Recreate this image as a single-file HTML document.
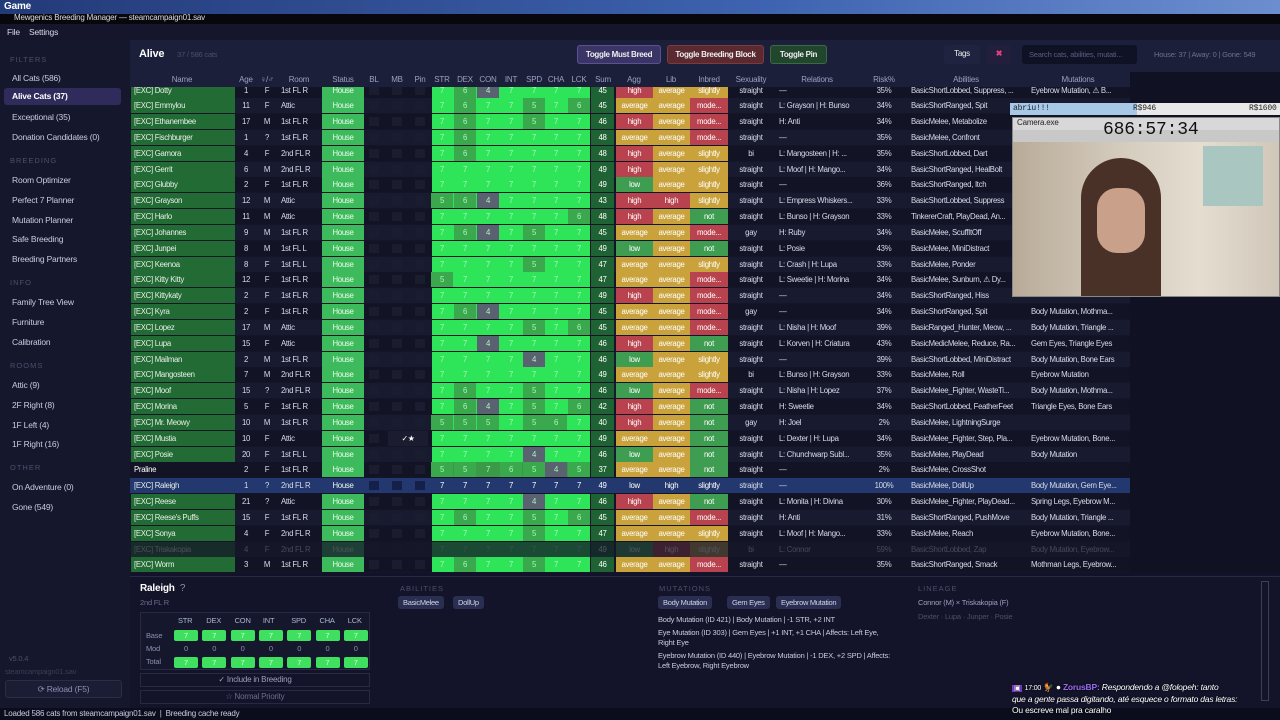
<!DOCTYPE html>
<html><head><meta charset="utf-8">
<style>
*{box-sizing:border-box;margin:0;padding:0}
body{width:1280px;height:720px;overflow:hidden;background:#12132a;font-family:"Liberation Sans",sans-serif;color:#d8dbe8;font-size:9px;position:relative;letter-spacing:-0.2px}
.a{position:absolute;white-space:nowrap}
.side .a{font-size:8.5px;color:#c9cbe0}
.sec{color:#4b4f6b !important;font-size:7.5px !important;letter-spacing:1px}
.btn{position:absolute;border-radius:3px;font-size:8px;font-weight:bold;text-align:center;line-height:17px;color:#eee;white-space:nowrap;letter-spacing:-0.3px}
.hd{position:absolute;top:75px;font-size:8px;color:#9aa0c0;text-align:center;white-space:nowrap}
.cell{position:absolute;height:15px;line-height:15px;text-align:center;font-size:7.8px;overflow:hidden;white-space:nowrap;letter-spacing:-0.3px}
.chip{position:absolute;background:#2a2f52;border-radius:3px;height:13px;line-height:13px;padding:0 5px;font-size:7.5px;color:#cfd3ea;letter-spacing:-0.3px}
</style></head><body>
<div class="a" style="left:0;top:0;width:1280px;height:14px;background:linear-gradient(90deg,#233a78,#3e63b0 60%,#6c8ed0)"></div>
<div class="a" style="left:4px;top:1px;font-size:10px;font-weight:bold;color:#fff">Game</div>
<div class="a" style="left:0;top:14px;width:1280px;height:10px;background:#07070d"></div>
<div class="a" style="left:14px;top:13px;font-size:8px;color:#ddd">Mewgenics Breeding Manager — steamcampaign01.sav</div>
<div class="a" style="left:0;top:24px;width:1280px;height:16px;background:#15162b"></div>
<div class="a" style="left:7px;top:27px;font-size:8.5px">File</div>
<div class="a" style="left:29px;top:27px;font-size:8.5px">Settings</div>
<div class="a side" style="left:0;top:40px;width:130px;height:668px;background:#15172c">
 <div class="a sec" style="left:10px;top:15px">FILTERS</div>
 <div class="a" style="left:12px;top:33px">All Cats (586)</div>
 <div class="a" style="left:4px;top:48px;width:117px;height:17px;background:#2f2c5c;border-radius:3px;padding:3px 8px;color:#fff;font-weight:bold">Alive Cats (37)</div>
 <div class="a" style="left:12px;top:72px">Exceptional (35)</div>
 <div class="a" style="left:12px;top:92px">Donation Candidates (0)</div>
 <div class="a sec" style="left:10px;top:116px">BREEDING</div>
 <div class="a" style="left:12px;top:135px">Room Optimizer</div>
 <div class="a" style="left:12px;top:155px">Perfect 7 Planner</div>
 <div class="a" style="left:12px;top:175px">Mutation Planner</div>
 <div class="a" style="left:12px;top:194px">Safe Breeding</div>
 <div class="a" style="left:12px;top:214px">Breeding Partners</div>
 <div class="a sec" style="left:10px;top:238px">INFO</div>
 <div class="a" style="left:12px;top:257px">Family Tree View</div>
 <div class="a" style="left:12px;top:277px">Furniture</div>
 <div class="a" style="left:12px;top:297px">Calibration</div>
 <div class="a sec" style="left:10px;top:321px">ROOMS</div>
 <div class="a" style="left:12px;top:340px">Attic (9)</div>
 <div class="a" style="left:12px;top:360px">2F Right (8)</div>
 <div class="a" style="left:12px;top:380px">1F Left (4)</div>
 <div class="a" style="left:12px;top:399px">1F Right (16)</div>
 <div class="a sec" style="left:10px;top:423px">OTHER</div>
 <div class="a" style="left:12px;top:442px">On Adventure (0)</div>
 <div class="a" style="left:12px;top:462px">Gone (549)</div>
 <div class="a" style="left:9px;top:614px;color:#4b4f6b;font-size:7.5px">v5.0.4</div>
 <div class="a" style="left:5px;top:627px;color:#3a3e58;font-size:7.5px">steamcampaign01.sav</div>
 <div class="a" style="left:5px;top:640px;width:117px;height:18px;border:1px solid #2a2d48;background:#1b1d35;border-radius:3px;text-align:center;line-height:16px;color:#8a8fb0">⟳ Reload (F5)</div>
</div>
<div class="a" style="left:130px;top:40px;width:1150px;height:47px;background:#1b1f3a"></div>
<div class="a" style="left:139px;top:48px;font-size:11px;font-weight:bold;color:#fff">Alive</div>
<div class="a" style="left:177px;top:50px;font-size:7.5px;color:#4a4f70">37 / 586 cats</div>
<div class="btn" style="left:577px;top:45px;width:84px;height:19px;background:#3a3566;border:1px solid #5a5290">Toggle Must Breed</div>
<div class="btn" style="left:667px;top:45px;width:97px;height:19px;background:#5a2a30;border:1px solid #7a3a40">Toggle Breeding Block</div>
<div class="btn" style="left:770px;top:45px;width:57px;height:19px;background:#22452e;border:1px solid #3a6a44">Toggle Pin</div>
<div class="btn" style="left:944px;top:45px;width:36px;height:19px;background:#1f2340;font-weight:normal">Tags</div>
<div class="btn" style="left:987px;top:45px;width:24px;height:19px;background:#221f3c;color:#e0407a">✖</div>
<div class="a" style="left:1022px;top:45px;width:115px;height:19px;background:#0f1124;border-radius:3px;padding:5px 7px;color:#5a5f80;font-size:7.5px">Search cats, abilities, mutati...</div>
<div class="a" style="left:1154px;top:50px;font-size:7.5px;color:#6a7090">House: 37 | Away: 0 | Gone: 549</div>
<div class="a" style="left:130px;top:72px;width:1000px;height:15px;background:#1b1f3a"></div>
<div id="hdr"></div>
<div class="a" style="left:130px;top:87px;width:1000px;height:486px;background:#141628;overflow:hidden" id="tb"></div>
<div class="a" style="left:1130px;top:72px;width:150px;height:501px;background:#101122"></div>
<div class="a" style="left:130px;top:576px;width:1150px;height:132px;background:#13142a;border-top:1px solid #262a45"></div>
<div class="a" style="left:140px;top:583px;font-size:10px;font-weight:bold;color:#fff">Raleigh <span style="color:#8a8fb0;font-weight:normal">&nbsp;?</span></div>
<div class="a" style="left:140px;top:598px;font-size:7.5px;color:#6a6f90">2nd FL R</div>
<div class="a" style="left:140px;top:612px;width:230px;height:58px;border:1px solid #262a45;background:#15172d" id="sg"></div>
<div class="a" style="left:140px;top:673px;width:230px;height:14px;border:1px solid #262a45;text-align:center;line-height:12px;color:#9aa0c0;font-size:8px">✓ Include in Breeding</div>
<div class="a" style="left:140px;top:690px;width:230px;height:14px;border:1px solid #262a45;text-align:center;line-height:12px;color:#6a6f90;font-size:8px;overflow:hidden">☆ Normal Priority</div>
<div class="a sec" style="left:400px;top:584px">ABILITIES</div>
<div class="chip" style="left:398px;top:596px">BasicMelee</div>
<div class="chip" style="left:453px;top:596px">DollUp</div>
<div class="a sec" style="left:659px;top:584px">MUTATIONS</div>
<div class="chip" style="left:658px;top:596px">Body Mutation</div>
<div class="chip" style="left:727px;top:596px">Gem Eyes</div>
<div class="chip" style="left:776px;top:596px">Eyebrow Mutation</div>
<div class="a" style="left:658px;top:615px;font-size:7.5px;line-height:10px;color:#c8cbe0;white-space:normal;width:235px">Body Mutation (ID 421) | Body Mutation | -1 STR, +2 INT<div style="height:3px"></div>Eye Mutation (ID 303) | Gem Eyes | +1 INT, +1 CHA | Affects: Left Eye, Right Eye<div style="height:3px"></div>Eyebrow Mutation (ID 440) | Eyebrow Mutation | -1 DEX, +2 SPD | Affects: Left Eyebrow, Right Eyebrow</div>
<div class="a sec" style="left:918px;top:584px">LINEAGE</div>
<div class="a" style="left:918px;top:598px;font-size:7.5px;color:#9aa0c0">Connor (M) × Triskakopia (F)</div>
<div class="a" style="left:918px;top:612px;font-size:7.5px;color:#4a4f6b">Dexter · Lupa · Junper · Posie</div>
<div class="a" style="left:1261px;top:581px;width:8px;height:120px;border:1px solid #3a3e58"></div>
<div class="a" style="left:0;top:708px;width:1280px;height:12px;background:#0c0d1c"></div>
<div class="a" style="left:4px;top:709px;font-size:8px;color:#c8cbe0">Loaded 586 cats from steamcampaign01.sav &nbsp;|&nbsp; Breeding cache ready</div>
<div class="a" style="left:1012px;top:682px;font-size:8.5px;line-height:11px;color:#fff;text-shadow:0 0 2px #000">
<span style="background:#7a3ec8;font-size:7px;padding:0 2px">▣</span> <span style="font-size:7px">17:00</span> 🐓 ● <b style="color:#9a6af0">ZorusBP:</b> <i>Respondendo a @folopeh: tanto</i><br><i>que a gente passa digitando, até esquece o formato das letras:</i><br>Ou escreve mal pra caralho</div>
<div class="a" style="left:1010px;top:103px;width:270px;height:12px;background:linear-gradient(90deg,#a8c8e8 0 47%,#e8e8e8 47%)"></div>
<div class="a" style="left:1013px;top:104px;font-size:8px;color:#222;font-family:'Liberation Mono',monospace">abriu!!! <span style="position:absolute;left:120px">R$946</span><span style="position:absolute;left:236px">R$1600</span></div>
<div class="a" style="left:1012px;top:117px;width:268px;height:180px;background:#c8c8c8;border:1px solid #888;overflow:hidden">
 <div class="a" style="left:0;top:0;width:268px;height:12px;background:#d8d8d8;font-size:8px;color:#222;padding-left:4px">Camera.exe</div>
 <div class="a" style="left:90px;top:2px;font-size:18px;color:#111;font-family:'Liberation Mono',monospace">686:57:34</div>
 <div class="a" style="left:0;top:24px;width:268px;height:156px;background:linear-gradient(90deg,#b8ab98,#d4cbbd 40%,#e4ddd0 70%,#cfc6b8)"></div>
 <div class="a" style="left:190px;top:28px;width:60px;height:60px;background:#a9c6c0"></div>
 <div class="a" style="left:68px;top:40px;width:80px;height:150px;background:#4a3128;border-radius:40px 40px 10px 10px"></div>
 <div class="a" style="left:84px;top:70px;width:48px;height:65px;background:#c9a08a;border-radius:20px"></div>
</div>
<script>
const names=["Dotty","Emmylou","Ethanembee","Fischburger","Gamora","Gerrit","Glubby","Grayson","Harlo","Johannes","Junpei","Keenoa","Kitty Kitty","Kittykaty","Kyra","Lopez","Lupa","Mailman","Mangosteen","Moof","Morina","Mr. Meowy","Mustia","Posie","Praline","Raleigh","Reese","Reese's Puffs","Sonya","Triskakopia","Worm"];
const ages=[1,11,17,1,4,6,2,12,11,9,8,8,12,2,2,17,15,2,7,15,5,10,10,20,2,1,21,15,4,4,3];
const sexes=["F","F","M","?","F","M","F","M","M","M","M","F","F","F","F","M","F","M","M","?","F","M","F","F","F","?","?","F","F","F","M"];
const rooms=["1st FL R","Attic","1st FL R","1st FL R","2nd FL R","2nd FL R","1st FL R","Attic","Attic","1st FL R","1st FL L","1st FL L","1st FL R","1st FL R","1st FL R","Attic","Attic","1st FL R","2nd FL R","2nd FL R","1st FL R","1st FL R","Attic","1st FL L","1st FL R","2nd FL R","Attic","1st FL R","2nd FL R","2nd FL R","1st FL R"];
const stats=[[7,6,4,7,7,7,7],[7,6,7,7,5,7,6],[7,6,7,7,5,7,7],[7,6,7,7,7,7,7],[7,6,7,7,7,7,7],[7,7,7,7,7,7,7],[7,7,7,7,7,7,7],[5,6,4,7,7,7,7],[7,7,7,7,7,7,6],[7,6,4,7,5,7,7],[7,7,7,7,7,7,7],[7,7,7,7,5,7,7],[5,7,7,7,7,7,7],[7,7,7,7,7,7,7],[7,6,4,7,7,7,7],[7,7,7,7,5,7,6],[7,7,4,7,7,7,7],[7,7,7,7,4,7,7],[7,7,7,7,7,7,7],[7,6,7,7,5,7,7],[7,6,4,7,5,7,6],[5,5,5,7,5,6,7],[7,7,7,7,7,7,7],[7,7,7,7,4,7,7],[5,5,7,6,5,4,5],[7,7,7,7,7,7,7],[7,7,7,7,4,7,7],[7,6,7,7,5,7,6],[7,7,7,7,5,7,7],[7,7,7,7,7,7,7],[7,6,7,7,5,7,7]];
const sums=[45,45,46,48,48,49,49,43,48,45,49,47,47,49,45,45,46,46,49,46,42,40,49,46,37,49,46,45,47,49,46];
const aggs=["high","average","high","average","high","high","low","high","high","average","low","average","average","high","average","average","high","low","average","low","high","high","average","low","average","low","high","average","average","low","average"];
const libs=["average","average","average","average","average","average","average","high","average","average","average","average","average","average","average","average","average","average","average","average","average","average","average","average","average","high","average","average","average","high","average"];
const inbreds=["slightly","mode...","mode...","mode...","slightly","slightly","slightly","slightly","not","mode...","not","slightly","mode...","mode...","mode...","mode...","not","slightly","slightly","mode...","not","not","not","not","not","slightly","not","mode...","slightly","slightly","mode..."];
const sexualities=["straight","straight","straight","straight","bi","straight","straight","straight","straight","gay","straight","straight","straight","straight","gay","straight","straight","straight","bi","straight","straight","gay","straight","straight","straight","straight","straight","straight","straight","bi","straight"];
const relations=["—","L: Grayson | H: Bunso","H: Anti","—","L: Mangosteen | H: ...","L: Moof | H: Mango...","—","L: Empress Whiskers...","L: Bunso | H: Grayson","H: Ruby","L: Posie","L: Crash | H: Lupa","L: Sweetie | H: Morina","—","—","L: Nisha | H: Moof","L: Korven | H: Criatura","—","L: Bunso | H: Grayson","L: Nisha | H: Lopez","H: Sweetie","H: Joel","L: Dexter | H: Lupa","L: Chunchwarp Subl...","—","—","L: Monita | H: Divina","H: Anti","L: Moof | H: Mango...","L: Connor","—"];
const risks=[35,34,34,35,35,34,36,33,33,34,43,33,34,34,34,39,43,39,33,37,34,2,34,35,2,100,30,31,33,59,35];
const abilities=["BasicShortLobbed, Suppress, ...","BasicShortRanged, Spit","BasicMelee, Metabolize","BasicMelee, Confront","BasicShortLobbed, Dart","BasicShortRanged, HealBolt","BasicShortRanged, Itch","BasicShortLobbed, Suppress","TinkererCraft, PlayDead, An...","BasicMelee, ScuffItOff","BasicMelee, MiniDistract","BasicMelee, Ponder","BasicMelee, Sunburn, ⚠ Dy...","BasicShortRanged, Hiss","BasicShortRanged, Spit","BasicRanged_Hunter, Meow, ...","BasicMedicMelee, Reduce, Ra...","BasicShortLobbed, MiniDistract","BasicMelee, Roll","BasicMelee_Fighter, WasteTi...","BasicShortLobbed, FeatherFeet","BasicMelee, LightningSurge","BasicMelee_Fighter, Step, Pla...","BasicMelee, PlayDead","BasicMelee, CrossShot","BasicMelee, DollUp","BasicMelee_Fighter, PlayDead...","BasicShortRanged, PushMove","BasicMelee, Reach","BasicShortLobbed, Zap","BasicShortRanged, Smack"];
const mutations=["Eyebrow Mutation, ⚠ B...","","","","","","","","","","","","","","Body Mutation, Mothma...","Body Mutation, Triangle ...","Gem Eyes, Triangle Eyes","Body Mutation, Bone Ears","Eyebrow Mutation","Body Mutation, Mothma...","Triangle Eyes, Bone Ears","","Eyebrow Mutation, Bone...","Body Mutation","","Body Mutation, Gem Eye...","Spring Legs, Eyebrow M...","Body Mutation, Triangle ...","Eyebrow Mutation, Bone...","Body Mutation, Eyebrow...","Mothman Legs, Eyebrow..."];
const headers=["Name","Age","♀/♂","Room","Status","BL","MB","Pin","STR","DEX","CON","INT","SPD","CHA","LCK","Sum","Agg","Lib","Inbred","Sexuality","Relations","Risk%","Abilities","Mutations"];

const hx=[182,246,267,299,343,374,397,420,442,465,488,511,534,556,579,603,634,671,709,751,817,884,966,1078];
const hdr=document.getElementById('hdr');
headers.forEach((h,i)=>{const d=document.createElement('div');d.className='hd';d.style.left=(hx[i]-30)+'px';d.style.width='60px';d.textContent=h;


hdr.appendChild(d);});
const tb=document.getElementById('tb');
const lvl={high:'#b8434f',average:'#c9a23c',low:'#3f9d52',slightly:'#c9a23c','mode...':'#b8434f',not:'#3f9d52'};
const statX=[442,465,488,511,534,556,579];
function cell(row,x,w,txt,bg,col,align){const c=document.createElement('div');c.className='cell';c.style.left=(x-130)+'px';c.style.width=w+'px';if(bg)c.style.background=bg;if(col)c.style.color=col;if(align){c.style.textAlign='left';c.style.paddingLeft='3px';}c.textContent=txt;row.appendChild(c);return c;}
const rowH=15.83;
names.forEach((n,i)=>{
 const r=document.createElement('div');
 
 
 const top=90+rowH*i-7.5-87;
 const sel=n==='Raleigh',dim=n==='Triskakopia',pr=n==='Praline';
 r.style.cssText=`position:absolute;left:0;top:${top}px;width:1000px;height:15px;background:${sel?'#23386e':(i%2?'#181b2f':'#121426')};opacity:${dim?0.25:1}`;
 cell(r,131,104,(pr?'':'[EXC] ')+n,sel||pr?null:'#236b35',pr?'#fff':'#e6f0e6',1);
 cell(r,236,20,ages[i]);cell(r,257,20,sexes[i]);
 cell(r,278,44,rooms[i],null,null,1);
 cell(r,322,42,'House',sel?null:'#3dbb5c','#eafbee');
 [374,397,420].forEach(x=>{const b=document.createElement('div');b.style.cssText=`position:absolute;left:${x-130-5}px;top:3px;width:10px;height:9px;background:${sel?'#14204a':'#1a1c30'}`;r.appendChild(b);});
 if(n==='Mustia')cell(r,388,40,'✓★','#1a1c30','#fff');
 if(!sel) {const g=document.createElement('div');g.style.cssText=`position:absolute;left:${432-130}px;top:0;width:158px;height:15px;background:${pr?'#3a9a48':'#2ee55a'}`;r.appendChild(g);}
 stats[i].forEach((v,k)=>{let bg=null;if(!sel){if(v<=4)bg='#5a6170';else if(v<7)bg='#3aa84c';}
  cell(r,statX[k]-11,22,v,bg,sel?'#fff':'#a8f5b8');});
 cell(r,591,23,sums[i],sel?null:'#1f6233','#fff');
 cell(r,616,37,aggs[i],sel?null:lvl[aggs[i]],'#fff');
 cell(r,653,37,libs[i],sel?null:lvl[libs[i]],'#fff');
 cell(r,690,38,inbreds[i],sel?null:lvl[inbreds[i]],'#fff');
 cell(r,730,42,sexualities[i]);
 cell(r,776,90,relations[i],null,null,1);
 cell(r,866,36,risks[i]+'%');
 cell(r,908,120,abilities[i],null,null,1);
 cell(r,1028,100,mutations[i],null,null,1);
 tb.appendChild(r);
});
const sg=document.getElementById('sg');
const sl=["STR","DEX","CON","INT","SPD","CHA","LCK"];
const baseVals=[7,7,7,7,7,7,7];const modVals=[0,0,0,0,0,0,0];
function t(x,y,s,st){const d=document.createElement('div');d.className='a';d.style.cssText=`left:${x}px;top:${y}px;font-size:7.5px;${st||''}`;d.textContent=s;sg.appendChild(d);return d;}
t(5,18,'Base','color:#8a8fb0');t(5,31,'Mod','color:#8a8fb0');t(5,44,'Total','color:#8a8fb0');
sl.forEach((s,k)=>{const x=33+k*28.3;
 t(x+4,3,s,'color:#b0b4d0');
 t(x,17,baseVals[k],'width:24px;height:11px;background:#3fe060;border-radius:2px;text-align:center;line-height:11px;color:#d0ffd8');
 t(x+10,31,modVals[k],'color:#8a8fb0');
 t(x,44,baseVals[k]+modVals[k],'width:24px;height:11px;background:#3fe060;border-radius:2px;text-align:center;line-height:11px;color:#d0ffd8');
});
</script>
</body></html>
